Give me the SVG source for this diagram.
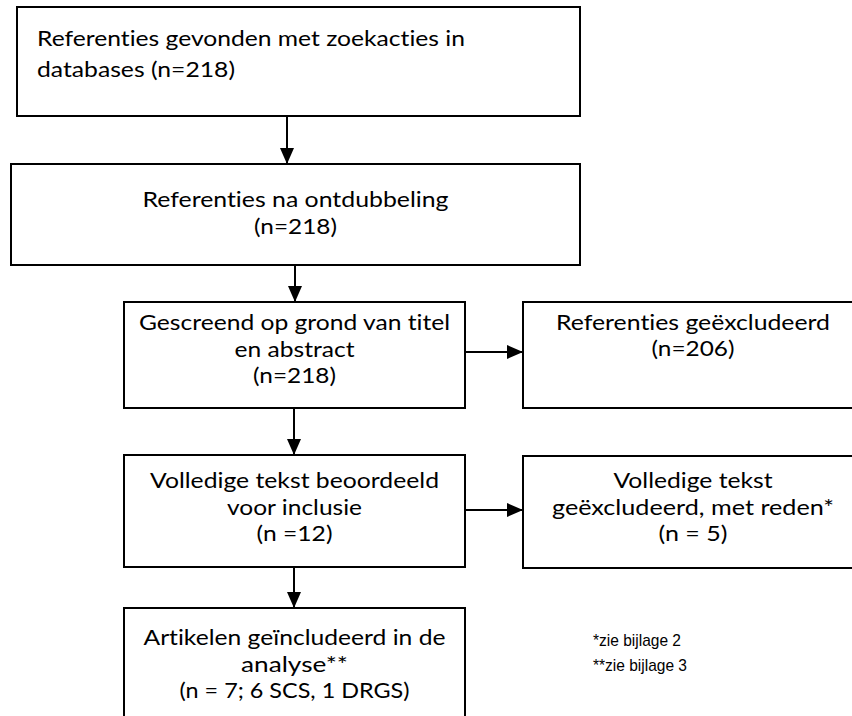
<svg xmlns="http://www.w3.org/2000/svg" width="852" height="716" viewBox="0 0 852 716">
<defs>
<style>
.box{fill:#fff;stroke:#000;stroke-width:2}
.t{font-family:Lato,"Open Sans","Liberation Sans",sans-serif;font-size:22px;fill:#000;font-variant-ligatures:none}
.c{text-anchor:middle}
.fn{font-family:"Liberation Sans",Arial,sans-serif;font-size:17px;fill:#000}
.ln{stroke:#000;stroke-width:2;fill:none}
</style>
<marker id="ah" viewBox="0 0 16 14" refX="16" refY="7" markerWidth="16" markerHeight="14" markerUnits="userSpaceOnUse" orient="auto">
<path d="M0,0 L16,7 L0,14 Z" fill="#000"/>
</marker>
</defs>
<rect width="852" height="716" fill="#fff"/>
<g id="connectors">
<line class="ln" x1="287" y1="116" x2="287" y2="164" marker-end="url(#ah)"/>
<line class="ln" x1="295" y1="265" x2="295" y2="302" marker-end="url(#ah)"/>
<line class="ln" x1="294" y1="408" x2="294" y2="455" marker-end="url(#ah)"/>
<line class="ln" x1="294" y1="567" x2="294" y2="608" marker-end="url(#ah)"/>
<line class="ln" x1="465" y1="352" x2="523" y2="352" marker-end="url(#ah)"/>
<line class="ln" x1="465" y1="510" x2="523" y2="510" marker-end="url(#ah)"/>
</g>
<g id="n1">
<rect class="box" x="17" y="7" width="563" height="109"/>
<text class="t" x="37" y="46" textLength="428" lengthAdjust="spacingAndGlyphs">Referenties gevonden met zoekacties in</text>
<text class="t" x="37" y="77" textLength="198" lengthAdjust="spacingAndGlyphs">databases (n=218)</text>
</g>
<g id="n2">
<rect class="box" x="11" y="164" width="569" height="101"/>
<text class="t c" x="295.5" y="207" textLength="306" lengthAdjust="spacingAndGlyphs">Referenties na ontdubbeling</text>
<text class="t c" x="295.5" y="234" textLength="83" lengthAdjust="spacingAndGlyphs">(n=218)</text>
</g>
<g id="n3">
<rect class="box" x="124" y="302" width="341" height="106"/>
<text class="t c" x="294.5" y="330" textLength="311" lengthAdjust="spacingAndGlyphs">Gescreend op grond van titel</text>
<text class="t c" x="294.5" y="357" textLength="120" lengthAdjust="spacingAndGlyphs">en abstract</text>
<text class="t c" x="294.5" y="383" textLength="83" lengthAdjust="spacingAndGlyphs">(n=218)</text>
</g>
<g id="n4">
<rect class="box" x="523" y="302" width="340" height="106"/>
<text class="t c" x="693" y="330" textLength="274" lengthAdjust="spacingAndGlyphs">Referenties geëxcludeerd</text>
<text class="t c" x="693" y="356" textLength="83" lengthAdjust="spacingAndGlyphs">(n=206)</text>
</g>
<g id="n5">
<rect class="box" x="124" y="455" width="341" height="112"/>
<text class="t c" x="294.5" y="488" textLength="289" lengthAdjust="spacingAndGlyphs">Volledige tekst beoordeeld</text>
<text class="t c" x="294.5" y="515" textLength="135" lengthAdjust="spacingAndGlyphs">voor inclusie</text>
<text class="t c" x="294.5" y="541" textLength="76" lengthAdjust="spacingAndGlyphs">(n =12)</text>
</g>
<g id="n6">
<rect class="box" x="523" y="456" width="340" height="112"/>
<text class="t c" x="693" y="488" textLength="159" lengthAdjust="spacingAndGlyphs">Volledige tekst</text>
<text class="t c" x="693" y="515" textLength="282" lengthAdjust="spacingAndGlyphs">geëxcludeerd, met reden*</text>
<text class="t c" x="693" y="541" textLength="69" lengthAdjust="spacingAndGlyphs">(n = 5)</text>
</g>
<g id="n7">
<rect class="box" x="124" y="608" width="341" height="120"/>
<text class="t c" x="294.5" y="645" textLength="302" lengthAdjust="spacingAndGlyphs">Artikelen geïncludeerd in de</text>
<text class="t c" x="294.5" y="672" textLength="107" lengthAdjust="spacingAndGlyphs">analyse**</text>
<text class="t c" x="294.5" y="698" textLength="230" lengthAdjust="spacingAndGlyphs">(n = 7; 6 SCS, 1 DRGS)</text>
</g>
<g id="notes">
<text class="fn" x="593" y="646" textLength="88" lengthAdjust="spacingAndGlyphs">*zie bijlage 2</text>
<text class="fn" x="593" y="671" textLength="94" lengthAdjust="spacingAndGlyphs">**zie bijlage 3</text>
</g>
</svg>
